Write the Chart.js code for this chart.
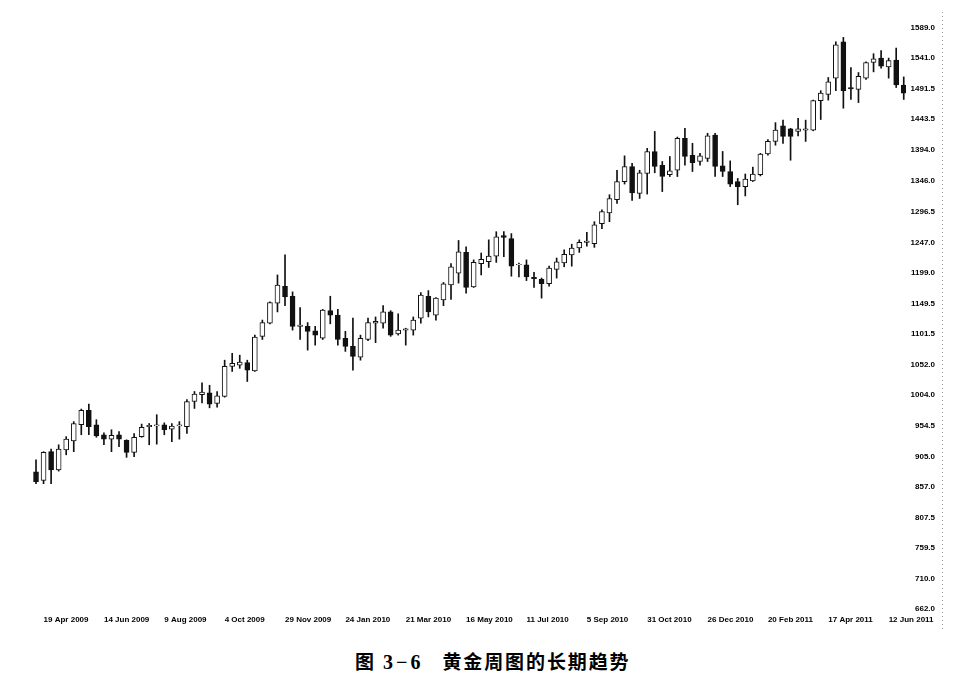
<!DOCTYPE html>
<html>
<head>
<meta charset="utf-8">
<script src="https://cdn.jsdelivr.net/npm/chart.js@4/dist/chart.umd.min.js"></script>
<style>
  body { margin: 0; background: #fff; }
  #wrap { position: relative; width: 976px; height: 681px; }
  #cap { position: absolute; left: 355px; top: 647px; font-family: 'Noto Sans CJK SC', sans-serif; font-weight: bold; font-size: 19px; color: #000; white-space: nowrap; }
  #cap .num { font-family: 'Liberation Serif', serif; font-size: 20px; margin: 0 19px 0 9px; letter-spacing: 3px; }
  #cap .txt { letter-spacing: 1.9px; }
</style>
</head>
<body>
<div id="wrap">
  <canvas id="chartOr" width="976" height="640"></canvas>
  <div id="cap">图<span class="num">3−6</span><span class="txt">黄金周图的长期趋势</span></div>
</div>
<script>
// bougies hebdo, or, avr 2009 -> juin 2011
const opens = [881, 867, 913, 884, 916, 930, 956, 979, 956, 940, 933, 940, 931, 912, 937, 953, 954, 956, 949, 954,
  953, 993, 1004, 1007, 990, 1001, 1049, 1051, 1055, 1042, 1097, 1118, 1150, 1177, 1161, 1113, 1113, 1106, 1094, 1138,
  1131, 1094, 1081, 1064, 1092, 1118, 1118, 1136, 1101, 1107, 1107, 1126, 1161, 1131, 1155, 1179, 1198, 1231, 1176, 1213,
  1216, 1225, 1258, 1253, 1211, 1211, 1191, 1188, 1181, 1204, 1214, 1227, 1238, 1247, 1245, 1277, 1294, 1315, 1344, 1368,
  1325, 1357, 1392, 1370, 1355, 1362, 1413, 1386, 1376, 1381, 1418, 1369, 1360, 1344, 1336, 1345, 1355, 1388, 1408, 1433,
  1428, 1424, 1426, 1426, 1473, 1483, 1509, 1567, 1494, 1491, 1509, 1534, 1541, 1527, 1538, 1498];
const highs = [900, 913, 917, 924, 937, 961, 981, 989, 964, 943, 948, 945, 932, 942, 957, 958, 972, 959, 958, 961,
  996, 1009, 1023, 1019, 1009, 1059, 1070, 1067, 1059, 1099, 1123, 1152, 1195, 1227, 1168, 1143, 1119, 1113, 1140, 1161,
  1140, 1105, 1126, 1099, 1126, 1128, 1146, 1138, 1133, 1110, 1128, 1167, 1170, 1159, 1183, 1213, 1250, 1240, 1219, 1230,
  1251, 1264, 1264, 1261, 1214, 1219, 1199, 1190, 1209, 1222, 1235, 1244, 1251, 1263, 1280, 1299, 1323, 1362, 1385, 1373,
  1362, 1397, 1424, 1376, 1384, 1415, 1429, 1405, 1389, 1421, 1421, 1392, 1377, 1349, 1356, 1367, 1389, 1411, 1438, 1442,
  1429, 1445, 1442, 1474, 1489, 1510, 1567, 1574, 1526, 1518, 1535, 1548, 1553, 1541, 1557, 1511];
const lows = [862, 862, 862, 882, 908, 913, 940, 940, 936, 924, 913, 921, 904, 905, 936, 924, 925, 940, 929, 933,
  942, 982, 991, 983, 984, 1000, 1041, 1046, 1025, 1041, 1092, 1117, 1136, 1146, 1107, 1092, 1075, 1083, 1092, 1117,
  1083, 1073, 1043, 1059, 1090, 1087, 1110, 1097, 1099, 1083, 1099, 1118, 1128, 1123, 1146, 1156, 1182, 1166, 1175, 1195,
  1207, 1215, 1224, 1193, 1192, 1186, 1175, 1158, 1177, 1190, 1208, 1209, 1231, 1241, 1239, 1269, 1280, 1309, 1340, 1314,
  1317, 1324, 1358, 1328, 1352, 1352, 1370, 1360, 1370, 1376, 1352, 1352, 1336, 1307, 1321, 1344, 1353, 1386, 1402, 1405,
  1378, 1417, 1408, 1425, 1443, 1474, 1489, 1461, 1475, 1470, 1507, 1519, 1525, 1509, 1494, 1475];
const closes = [865, 912, 884, 917, 933, 958, 979, 953, 938, 933, 939, 933, 912, 936, 952, 955, 956, 948, 954, 956,
  993, 1005, 1008, 989, 1002, 1049, 1054, 1056, 1043, 1096, 1119, 1151, 1179, 1160, 1113, 1115, 1105, 1099, 1139, 1131,
  1092, 1081, 1065, 1094, 1119, 1121, 1136, 1099, 1107, 1109, 1123, 1163, 1136, 1158, 1181, 1208, 1232, 1175, 1215, 1220,
  1225, 1256, 1255, 1209, 1212, 1192, 1189, 1181, 1206, 1216, 1228, 1238, 1247, 1249, 1275, 1296, 1317, 1344, 1368, 1326,
  1358, 1392, 1368, 1352, 1361, 1413, 1384, 1374, 1385, 1417, 1368, 1360, 1340, 1336, 1348, 1356, 1388, 1408, 1426, 1416,
  1416, 1428, 1428, 1473, 1485, 1503, 1562, 1489, 1492, 1512, 1534, 1540, 1528, 1537, 1498, 1485];

const tickLabels = ['19 Apr 2009', '14 Jun 2009', '9 Aug 2009', '4 Oct 2009', '29 Nov 2009', '24 Jan 2010', '21 Mar 2010',
  '16 May 2010', '11 Jul 2010', '5 Sep 2010', '31 Oct 2010', '26 Dec 2010', '20 Feb 2011', '17 Apr 2011', '12 Jun 2011'];
const tickWeeks = [1, 9, 17, 25, 33, 41, 49, 57, 65, 73, 81, 89, 97, 105, 113];
const yTicks = [662, 710, 759.5, 807.5, 857, 905, 954.5, 1004, 1052, 1101.5, 1149.5, 1199, 1247, 1296.5, 1346, 1394,
  1443.5, 1491.5, 1541, 1589];

const police = { family: "'Liberation Sans', Arial, sans-serif", size: 8, weight: 'bold' };

const ligneDroite = {
  id: 'ligneDroite',
  afterDraw(chart) {
    const ctx = chart.ctx;
    ctx.save();
    ctx.strokeStyle = '#9a9a9a';
    ctx.lineWidth = 1;
    ctx.setLineDash([1, 3]);
    ctx.beginPath();
    ctx.moveTo(942.5, 12);
    ctx.lineTo(942.5, 632);
    ctx.stroke();
    ctx.restore();
  }
};

const ctx = document.getElementById('chartOr').getContext('2d');
new Chart(ctx, {
  type: 'bar',
  data: {
    datasets: [
      {
        label: 'corps',
        data: opens.map((o, i) => ({ x: i, y: [o, closes[i]] })),
        backgroundColor: opens.map((o, i) => closes[i] >= o ? '#ffffff' : '#111111'),
        borderColor: '#111111',
        borderWidth: 1,
        borderSkipped: false,
        barThickness: 5,
        grouped: false,
        order: 0
      },
      {
        label: 'meches',
        data: highs.map((h, i) => ({ x: i, y: [lows[i], h] })),
        backgroundColor: '#111111',
        borderWidth: 0,
        barThickness: 1,
        grouped: false,
        order: 1
      }
    ]
  },
  options: {
    responsive: false,
    animation: false,
    layout: { padding: { left: 33, right: 41, top: 28, bottom: 10 } },
    plugins: { legend: { display: false }, tooltip: { enabled: false } },
    scales: {
      x: {
        type: 'linear',
        min: -0.4,
        max: 115.3,
        offset: false,
        grid: { display: false },
        border: { display: false },
        afterBuildTicks: s => { s.ticks = tickWeeks.map(v => ({ value: v })); },
        afterFit: s => { s.height = 21; },
        ticks: {
          autoSkip: false,
          maxRotation: 0,
          align: 'start',
          padding: -2,
          color: '#000',
          font: police,
          callback: v => tickLabels[tickWeeks.indexOf(v)]
        }
      },
      y: {
        type: 'linear',
        position: 'right',
        min: 662,
        max: 1589,
        grid: { display: false },
        border: { display: false },
        afterBuildTicks: s => { s.ticks = yTicks.map(v => ({ value: v })); },
        afterFit: s => { s.width = 29; },
        ticks: {
          padding: 4,
          crossAlign: 'far',
          color: '#000',
          font: police,
          callback: v => v.toFixed(1)
        }
      }
    }
  },
  plugins: [ligneDroite]
});
</script>
</body>
</html>
